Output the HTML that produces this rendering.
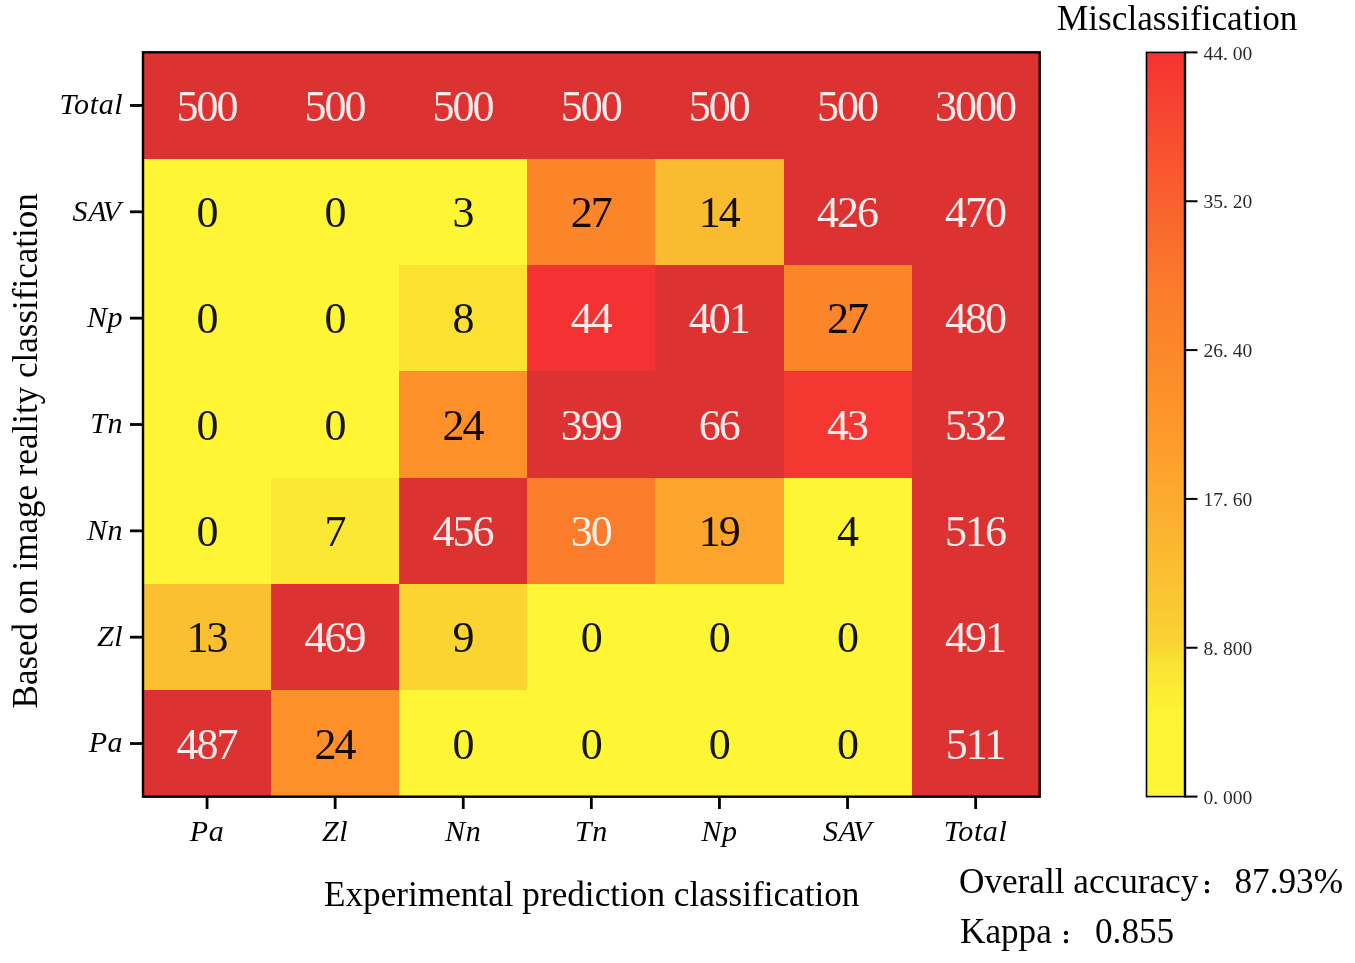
<!DOCTYPE html>
<html lang="en"><head><meta charset="utf-8"><title>Confusion matrix</title>
<style>
html,body{margin:0;padding:0;background:#fff}
svg{display:block}
text{font-family:"Liberation Serif","Noto Serif CJK SC",serif}
.num{font-size:44px;text-anchor:middle;letter-spacing:-2px}
.tk{font-size:30px;font-style:italic;letter-spacing:0.6px}
.ax{font-size:35.2px;font-variant-ligatures:none}
.cb{font-size:19.5px;fill:#2a2a2a;font-family:"Liberation Serif","Noto Serif CJK SC",serif}
</style></head><body>
<svg width="1355" height="963" viewBox="0 0 1355 963">
<rect width="1355" height="963" fill="#fff"/>
<defs><linearGradient id="g" x1="0" y1="1" x2="0" y2="0"><stop offset="0.0000" stop-color="#fef634"/><stop offset="0.1000" stop-color="#fef634"/><stop offset="0.1591" stop-color="#fce834"/><stop offset="0.1818" stop-color="#fae132"/><stop offset="0.2045" stop-color="#fad432"/><stop offset="0.2955" stop-color="#fac032"/><stop offset="0.4318" stop-color="#fda42d"/><stop offset="0.5455" stop-color="#fd9029"/><stop offset="0.6136" stop-color="#fb8529"/><stop offset="0.6818" stop-color="#fb7c2b"/><stop offset="1.0000" stop-color="#f53232"/></linearGradient></defs>
<g shape-rendering="crispEdges">
<rect x="143.00" y="52.30" width="128.60" height="106.84" fill="#dc3332"/>
<rect x="271.10" y="52.30" width="128.60" height="106.84" fill="#dc3332"/>
<rect x="399.20" y="52.30" width="128.60" height="106.84" fill="#dc3332"/>
<rect x="527.30" y="52.30" width="128.60" height="106.84" fill="#dc3332"/>
<rect x="655.40" y="52.30" width="128.60" height="106.84" fill="#dc3332"/>
<rect x="783.50" y="52.30" width="128.60" height="106.84" fill="#dc3332"/>
<rect x="911.60" y="52.30" width="128.60" height="106.84" fill="#dc3332"/>
<rect x="143.00" y="158.64" width="128.60" height="106.84" fill="#fef634"/>
<rect x="271.10" y="158.64" width="128.60" height="106.84" fill="#fef634"/>
<rect x="399.20" y="158.64" width="128.60" height="106.84" fill="#fef634"/>
<rect x="527.30" y="158.64" width="128.60" height="106.84" fill="#fb8529"/>
<rect x="655.40" y="158.64" width="128.60" height="106.84" fill="#fabb31"/>
<rect x="783.50" y="158.64" width="128.60" height="106.84" fill="#dc3332"/>
<rect x="911.60" y="158.64" width="128.60" height="106.84" fill="#dc3332"/>
<rect x="143.00" y="264.99" width="128.60" height="106.84" fill="#fef634"/>
<rect x="271.10" y="264.99" width="128.60" height="106.84" fill="#fef634"/>
<rect x="399.20" y="264.99" width="128.60" height="106.84" fill="#fae132"/>
<rect x="527.30" y="264.99" width="128.60" height="106.84" fill="#f53232"/>
<rect x="655.40" y="264.99" width="128.60" height="106.84" fill="#dc3332"/>
<rect x="783.50" y="264.99" width="128.60" height="106.84" fill="#fb8529"/>
<rect x="911.60" y="264.99" width="128.60" height="106.84" fill="#dc3332"/>
<rect x="143.00" y="371.33" width="128.60" height="106.84" fill="#fef634"/>
<rect x="271.10" y="371.33" width="128.60" height="106.84" fill="#fef634"/>
<rect x="399.20" y="371.33" width="128.60" height="106.84" fill="#fd9029"/>
<rect x="527.30" y="371.33" width="128.60" height="106.84" fill="#dc3332"/>
<rect x="655.40" y="371.33" width="128.60" height="106.84" fill="#dc3332"/>
<rect x="783.50" y="371.33" width="128.60" height="106.84" fill="#f53732"/>
<rect x="911.60" y="371.33" width="128.60" height="106.84" fill="#dc3332"/>
<rect x="143.00" y="477.67" width="128.60" height="106.84" fill="#fef634"/>
<rect x="271.10" y="477.67" width="128.60" height="106.84" fill="#fce834"/>
<rect x="399.20" y="477.67" width="128.60" height="106.84" fill="#dc3332"/>
<rect x="527.30" y="477.67" width="128.60" height="106.84" fill="#fb7c2b"/>
<rect x="655.40" y="477.67" width="128.60" height="106.84" fill="#fda42d"/>
<rect x="783.50" y="477.67" width="128.60" height="106.84" fill="#fef634"/>
<rect x="911.60" y="477.67" width="128.60" height="106.84" fill="#dc3332"/>
<rect x="143.00" y="584.01" width="128.60" height="106.84" fill="#fac032"/>
<rect x="271.10" y="584.01" width="128.60" height="106.84" fill="#dc3332"/>
<rect x="399.20" y="584.01" width="128.60" height="106.84" fill="#fad432"/>
<rect x="527.30" y="584.01" width="128.60" height="106.84" fill="#fef634"/>
<rect x="655.40" y="584.01" width="128.60" height="106.84" fill="#fef634"/>
<rect x="783.50" y="584.01" width="128.60" height="106.84" fill="#fef634"/>
<rect x="911.60" y="584.01" width="128.60" height="106.84" fill="#dc3332"/>
<rect x="143.00" y="690.36" width="128.60" height="106.84" fill="#dc3332"/>
<rect x="271.10" y="690.36" width="128.60" height="106.84" fill="#fd9029"/>
<rect x="399.20" y="690.36" width="128.60" height="106.84" fill="#fef634"/>
<rect x="527.30" y="690.36" width="128.60" height="106.84" fill="#fef634"/>
<rect x="655.40" y="690.36" width="128.60" height="106.84" fill="#fef634"/>
<rect x="783.50" y="690.36" width="128.60" height="106.84" fill="#fef634"/>
<rect x="911.60" y="690.36" width="128.60" height="106.84" fill="#dc3332"/>
</g>
<rect x="143.0" y="52.3" width="896.7" height="744.4000000000001" fill="none" stroke="#000" stroke-width="2.4"/>
<g stroke="#000" stroke-width="2.8">
<line x1="130" y1="105.47" x2="143.0" y2="105.47"/>
<line x1="130" y1="211.81" x2="143.0" y2="211.81"/>
<line x1="130" y1="318.16" x2="143.0" y2="318.16"/>
<line x1="130" y1="424.50" x2="143.0" y2="424.50"/>
<line x1="130" y1="530.84" x2="143.0" y2="530.84"/>
<line x1="130" y1="637.19" x2="143.0" y2="637.19"/>
<line x1="130" y1="743.53" x2="143.0" y2="743.53"/>
<line x1="207.05" y1="796.7" x2="207.05" y2="809"/>
<line x1="335.15" y1="796.7" x2="335.15" y2="809"/>
<line x1="463.25" y1="796.7" x2="463.25" y2="809"/>
<line x1="591.35" y1="796.7" x2="591.35" y2="809"/>
<line x1="719.45" y1="796.7" x2="719.45" y2="809"/>
<line x1="847.55" y1="796.7" x2="847.55" y2="809"/>
<line x1="975.65" y1="796.7" x2="975.65" y2="809"/>
</g>
<text class="num" x="206.5" y="120.5" fill="#fff" fill-opacity="0.9">500</text>
<text class="num" x="334.5" y="120.5" fill="#fff" fill-opacity="0.9">500</text>
<text class="num" x="462.6" y="120.5" fill="#fff" fill-opacity="0.9">500</text>
<text class="num" x="590.7" y="120.5" fill="#fff" fill-opacity="0.9">500</text>
<text class="num" x="718.8" y="120.5" fill="#fff" fill-opacity="0.9">500</text>
<text class="num" x="846.9" y="120.5" fill="#fff" fill-opacity="0.9">500</text>
<text class="num" x="975.0" y="120.5" fill="#fff" fill-opacity="0.9">3000</text>
<text class="num" x="206.5" y="226.8" fill="#000" fill-opacity="0.92">0</text>
<text class="num" x="334.5" y="226.8" fill="#000" fill-opacity="0.92">0</text>
<text class="num" x="462.6" y="226.8" fill="#000" fill-opacity="0.92">3</text>
<text class="num" x="590.7" y="226.8" fill="#000" fill-opacity="0.92">27</text>
<text class="num" x="718.8" y="226.8" fill="#000" fill-opacity="0.92">14</text>
<text class="num" x="846.9" y="226.8" fill="#fff" fill-opacity="0.9">426</text>
<text class="num" x="975.0" y="226.8" fill="#fff" fill-opacity="0.9">470</text>
<text class="num" x="206.5" y="333.2" fill="#000" fill-opacity="0.92">0</text>
<text class="num" x="334.5" y="333.2" fill="#000" fill-opacity="0.92">0</text>
<text class="num" x="462.6" y="333.2" fill="#000" fill-opacity="0.92">8</text>
<text class="num" x="590.7" y="333.2" fill="#fff" fill-opacity="0.9">44</text>
<text class="num" x="718.8" y="333.2" fill="#fff" fill-opacity="0.9">401</text>
<text class="num" x="846.9" y="333.2" fill="#000" fill-opacity="0.92">27</text>
<text class="num" x="975.0" y="333.2" fill="#fff" fill-opacity="0.9">480</text>
<text class="num" x="206.5" y="439.5" fill="#000" fill-opacity="0.92">0</text>
<text class="num" x="334.5" y="439.5" fill="#000" fill-opacity="0.92">0</text>
<text class="num" x="462.6" y="439.5" fill="#000" fill-opacity="0.92">24</text>
<text class="num" x="590.7" y="439.5" fill="#fff" fill-opacity="0.9">399</text>
<text class="num" x="718.8" y="439.5" fill="#fff" fill-opacity="0.9">66</text>
<text class="num" x="846.9" y="439.5" fill="#fff" fill-opacity="0.9">43</text>
<text class="num" x="975.0" y="439.5" fill="#fff" fill-opacity="0.9">532</text>
<text class="num" x="206.5" y="545.8" fill="#000" fill-opacity="0.92">0</text>
<text class="num" x="334.5" y="545.8" fill="#000" fill-opacity="0.92">7</text>
<text class="num" x="462.6" y="545.8" fill="#fff" fill-opacity="0.9">456</text>
<text class="num" x="590.7" y="545.8" fill="#fff" fill-opacity="0.9">30</text>
<text class="num" x="718.8" y="545.8" fill="#000" fill-opacity="0.92">19</text>
<text class="num" x="846.9" y="545.8" fill="#000" fill-opacity="0.92">4</text>
<text class="num" x="975.0" y="545.8" fill="#fff" fill-opacity="0.9">516</text>
<text class="num" x="206.5" y="652.2" fill="#000" fill-opacity="0.92">13</text>
<text class="num" x="334.5" y="652.2" fill="#fff" fill-opacity="0.9">469</text>
<text class="num" x="462.6" y="652.2" fill="#000" fill-opacity="0.92">9</text>
<text class="num" x="590.7" y="652.2" fill="#000" fill-opacity="0.92">0</text>
<text class="num" x="718.8" y="652.2" fill="#000" fill-opacity="0.92">0</text>
<text class="num" x="846.9" y="652.2" fill="#000" fill-opacity="0.92">0</text>
<text class="num" x="975.0" y="652.2" fill="#fff" fill-opacity="0.9">491</text>
<text class="num" x="206.5" y="758.5" fill="#fff" fill-opacity="0.9">487</text>
<text class="num" x="334.5" y="758.5" fill="#000" fill-opacity="0.92">24</text>
<text class="num" x="462.6" y="758.5" fill="#000" fill-opacity="0.92">0</text>
<text class="num" x="590.7" y="758.5" fill="#000" fill-opacity="0.92">0</text>
<text class="num" x="718.8" y="758.5" fill="#000" fill-opacity="0.92">0</text>
<text class="num" x="846.9" y="758.5" fill="#000" fill-opacity="0.92">0</text>
<text class="num" x="975.0" y="758.5" fill="#fff" fill-opacity="0.9">511</text>
<text class="tk" x="123.2" y="114.3" text-anchor="end">Total</text>
<text class="tk" x="121.5" y="220.6" text-anchor="end">SA<tspan dx="-3">V</tspan></text>
<text class="tk" x="123.2" y="327.0" text-anchor="end">Np</text>
<text class="tk" x="123.2" y="433.3" text-anchor="end">Tn</text>
<text class="tk" x="123.2" y="539.6" text-anchor="end">Nn</text>
<text class="tk" x="123.2" y="646.0" text-anchor="end">Zl</text>
<text class="tk" x="123.2" y="752.3" text-anchor="end">Pa</text>
<text class="tk" x="207.1" y="841" text-anchor="middle">Pa</text>
<text class="tk" x="335.1" y="841" text-anchor="middle">Zl</text>
<text class="tk" x="463.2" y="841" text-anchor="middle">Nn</text>
<text class="tk" x="591.3" y="841" text-anchor="middle">Tn</text>
<text class="tk" x="719.4" y="841" text-anchor="middle">Np</text>
<text class="tk" x="847.5" y="841" text-anchor="middle">SA<tspan dx="-3">V</tspan></text>
<text class="tk" x="975.6" y="841" text-anchor="middle">Total</text>
<text class="ax" x="324" y="905.5">Experimental prediction classification</text>
<text class="ax" style="font-size:35px" transform="translate(36.8,450.9) rotate(-90)" text-anchor="middle">Based on image reality classification</text>
<text class="ax" x="1057" y="30">Misclassification</text>
<text class="ax" y="893"><tspan x="959">Overall accuracy</tspan><tspan x="1201" font-size="21" font-weight="900">：</tspan><tspan x="1234.5">87.93%</tspan></text>
<text class="ax" y="942.5"><tspan x="960">Kappa</tspan><tspan x="1060" font-size="21" font-weight="900">：</tspan><tspan x="1095">0.855</tspan></text>
<rect x="1146.5" y="52.4" width="38.5" height="744.2" fill="url(#g)" stroke="#000" stroke-width="1.6"/>
<line x1="1185.0" y1="51.6" x2="1185.0" y2="797.4" stroke="#000" stroke-width="2.4"/>
<g stroke="#000" stroke-width="2">
<line x1="1185.0" y1="796.60" x2="1197.5" y2="796.60"/>
<line x1="1185.0" y1="647.76" x2="1197.5" y2="647.76"/>
<line x1="1185.0" y1="498.92" x2="1197.5" y2="498.92"/>
<line x1="1185.0" y1="350.08" x2="1197.5" y2="350.08"/>
<line x1="1185.0" y1="201.24" x2="1197.5" y2="201.24"/>
<line x1="1185.0" y1="52.40" x2="1197.5" y2="52.40"/>
</g>
<text class="cb" x="1203.5" y="803.7">0.<tspan dx="4.9">000</tspan></text>
<text class="cb" x="1203.5" y="654.9">8.<tspan dx="4.9">800</tspan></text>
<text class="cb" x="1203.5" y="506.0">17.<tspan dx="4.9">60</tspan></text>
<text class="cb" x="1203.5" y="357.2">26.<tspan dx="4.9">40</tspan></text>
<text class="cb" x="1203.5" y="208.3">35.<tspan dx="4.9">20</tspan></text>
<text class="cb" x="1203.5" y="59.5">44.<tspan dx="4.9">00</tspan></text>
</svg></body></html>
